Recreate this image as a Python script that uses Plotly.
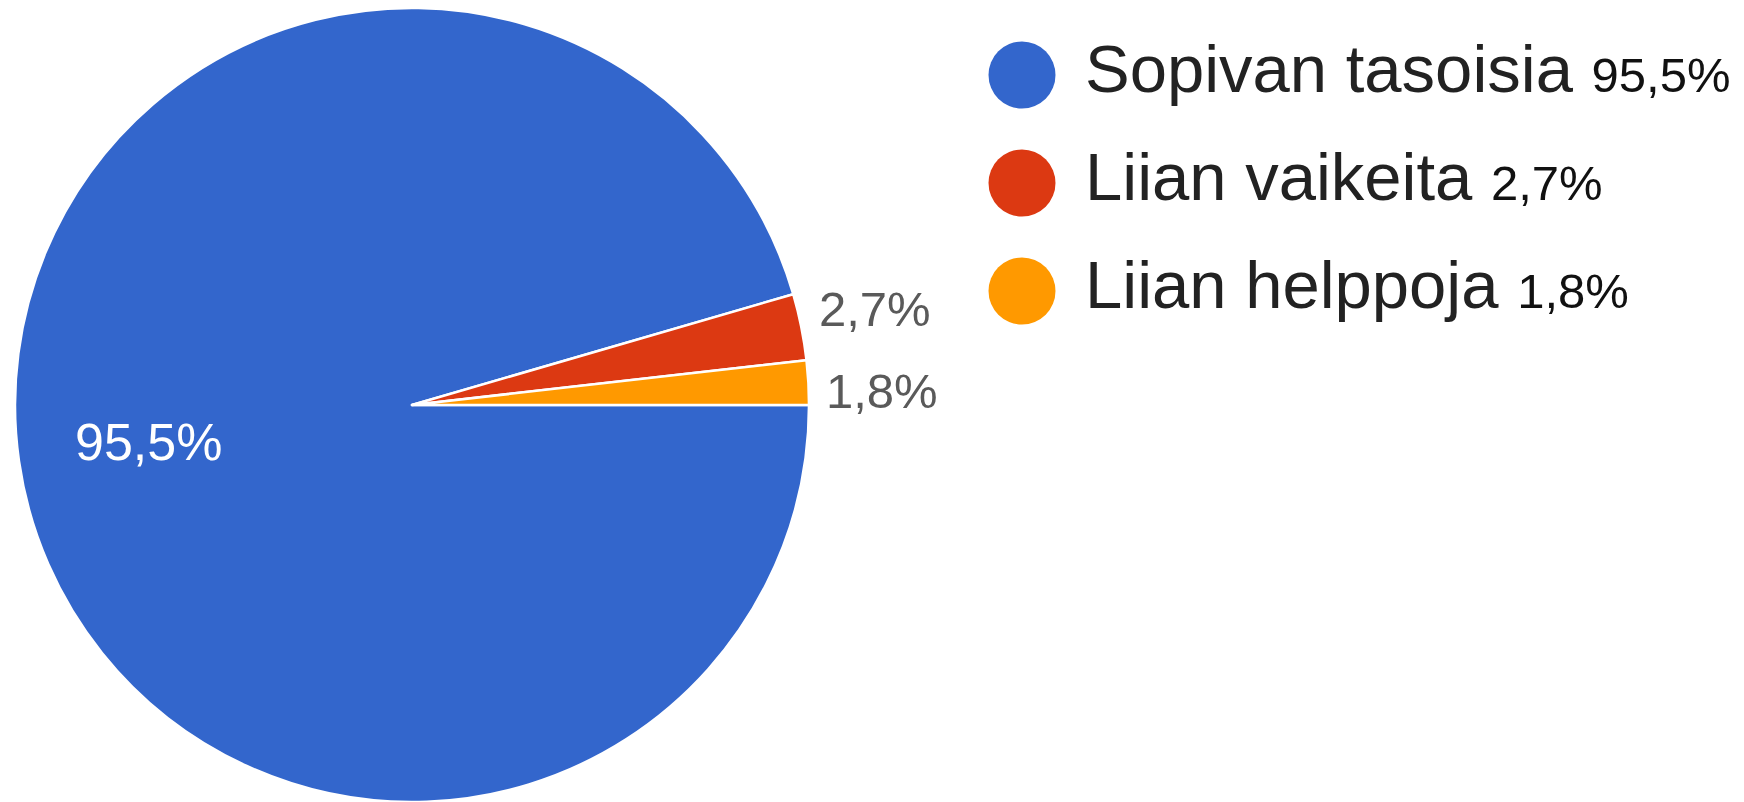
import math
import plotly.graph_objects as go

# ---- data ----
labels = ["Sopivan tasoisia", "Liian vaikeita", "Liian helppoja"]
values = [95.5, 2.7, 1.8]
value_labels = ["95,5%", "2,7%", "1,8%"]
colors = ["#3366CC", "#DC3912", "#FF9900"]

W, H = 1744, 802
M_T = 8
FONT = "Arial, 'Liberation Sans', sans-serif"

# pie geometry (pixels)
pie_cx = 412
pie_r = (H - M_T) / 2
pie_cy = M_T + pie_r

fig = go.Figure()

fig.add_trace(go.Pie(
    labels=labels,
    values=values,
    textinfo="none",
    sort=False,
    direction="clockwise",
    rotation=90,
    marker=dict(colors=colors, line=dict(color="white", width=2.5)),
    domain=dict(x=[(pie_cx - pie_r) / W, (pie_cx + pie_r) / W], y=[0, 1]),
    showlegend=False,
    hoverinfo="skip",
))

# ---- slice labels: big slices inside, small slices outside (spread apart) ----
tot = sum(values)
big = [v / tot > 0.5 for v in values]
cum = 0.0
inside, outside = [], []
for v, t, b in zip(values, value_labels, big):
    mid = (cum + v / 2) / tot * 2 * math.pi   # clockwise from 3 o'clock
    cum += v
    if b:
        inside.append((pie_cx + 0.67 * pie_r * math.cos(mid),
                       pie_cy + 0.67 * pie_r * math.sin(mid), t))
    else:
        outside.append([pie_cx + pie_r * math.cos(mid) + 16,
                        pie_cy + 1.1 * pie_r * math.sin(mid), t])

# separate overlapping outside labels vertically
MIN_GAP = 82
outside.sort(key=lambda a: a[1])
for i in range(1, len(outside)):
    gap = outside[i][1] - outside[i - 1][1]
    if gap < MIN_GAP:
        push = (MIN_GAP - gap) / 2
        outside[i - 1][1] -= push
        outside[i][1] += push


def to_paper(px, py):
    return px / W, (H - py) / (H - M_T)


for px, py, t in inside:
    x, y = to_paper(px, py)
    fig.add_annotation(x=x, y=y, xref="paper", yref="paper", text=t,
                       showarrow=False, xanchor="center", yanchor="middle",
                       font=dict(family=FONT, size=52, color="white"))
for px, py, t in outside:
    x, y = to_paper(px, py)
    fig.add_annotation(x=x, y=y, xref="paper", yref="paper", text=t,
                       showarrow=False, xanchor="left", yanchor="middle",
                       font=dict(family=FONT, size=49, color="#5a5a5a"))

# ---- custom legend (large circles) drawn as scatter on hidden axes ----
row_px = [75, 183, 291]          # legend row centres (px from top)
row_gap = row_px[1] - row_px[0]
idx = list(range(len(labels)))

x_dom0 = 0.5
dom_px = W * (1 - x_dom0)
circle_x_px = 1022
x0 = -(circle_x_px - W * x_dom0) / dom_px
xrange = [x0, x0 + 1]
text_dx = (1085 - circle_x_px) / dom_px

y_top = (M_T - row_px[0]) / row_gap
y_bot = (H - row_px[0]) / row_gap

fig.add_trace(go.Scatter(
    x=[0] * len(idx), y=idx, mode="markers",
    marker=dict(size=67, color=colors, line=dict(width=0)),
    showlegend=False, hoverinfo="skip", cliponaxis=False,
))
fig.add_trace(go.Scatter(
    x=[text_dx] * len(idx), y=idx, mode="text",
    text=[f"{l} <span style='font-size:49px;color:#111111'>{v}</span>"
          for l, v in zip(labels, value_labels)],
    textposition="middle right",
    textfont=dict(family=FONT, size=67, color="#222222"),
    showlegend=False, hoverinfo="skip", cliponaxis=False,
))

fig.update_layout(
    width=W, height=H,
    margin=dict(l=0, r=0, t=M_T, b=0),
    paper_bgcolor="white", plot_bgcolor="rgba(0,0,0,0)",
    xaxis=dict(domain=[x_dom0, 1], range=xrange, visible=False, fixedrange=True),
    yaxis=dict(domain=[0, 1], range=[y_bot, y_top], visible=False, fixedrange=True),
    showlegend=False,
)

fig.write_html("out.html",
               config={"displayModeBar": False},
               post_script="document.body.style.margin='0px';"
                           "document.body.style.overflow='hidden';")
